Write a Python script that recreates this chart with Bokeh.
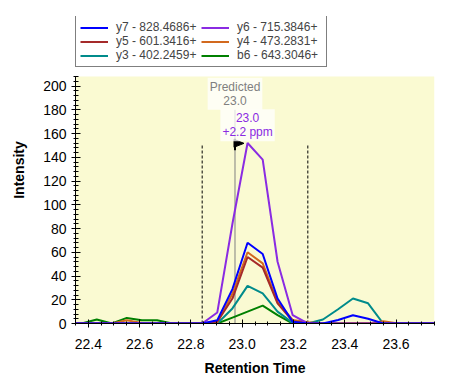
from bokeh.plotting import figure
from bokeh.models import (Legend, LegendItem, Label, FixedTicker, PrintfTickFormatter,
                          Range1d, BoxAnnotation)
from bokeh.embed import file_html
from bokeh.resources import INLINE

# ---- data ----
times = [22.315, 22.374, 22.433, 22.492, 22.550, 22.609, 22.668, 22.727, 22.786,
         22.844, 22.903, 22.962, 23.021, 23.080, 23.138, 23.197, 23.256, 23.315,
         23.374, 23.432, 23.491, 23.550, 23.609, 23.668, 23.726, 23.785]
y7 = [0, 0, 0, 0, 0, 0, 0, 0, 0, 0, 2.8, 29, 68, 58.5, 21, 1.4, 0, 0, 3, 7, 4, 0, 0, 0, 0, 0]
y6 = [0, 0, 0, 0, 0, 0, 0, 0, 0, 0, 9.3, 84, 152, 138, 52, 7, 0, 0, 0, 0, 0, 0, 0, 0, 0, 0]
y5 = [0, 0, 0, 0, 0, 0, 0, 0, 0, 0, 1.5, 21, 56, 47, 17, 2, 0, 0, 0, 0, 0, 0, 0, 0, 0, 0]
y4 = [0, 0, 0, 0, 2.8, 0.5, 0, 0, 0, 0, 1, 25, 60, 50.6, 18, 3, 1, 0, 0, 0, 0, 2, 0, 0, 0, 0]
y3 = [0, 0, 0, 0, 0, 0, 0, 0, 0, 0, 0, 12.7, 31.7, 25.3, 10, 0.5, 0, 3.4, 12, 21, 17, 0, 0, 0, 0, 0]
b6 = [0, 0, 3.4, 0, 4.7, 2.8, 2.8, 0, 0, 0, 0, 5, 10, 15, 7, 0, 0, 0, 0, 0, 0, 0, 0, 0, 0, 0]

series_names = ["y7 - 828.4686+", "y6 - 715.3846+", "y5 - 601.3416+",
                "y4 - 473.2831+", "y3 - 402.2459+", "b6 - 643.3046+"]
series_values = [y7, y6, y5, y4, y3, b6]
series_colors = ["#0000FF", "#8A2BE2", "#A52A2A", "#D2691E", "#008B8B", "#008000"]
# legend is filled column by column: left column y7, y5, y3; right column y6, y4, b6
legend_order = ["y7 - 828.4686+", "y5 - 601.3416+", "y3 - 402.2459+",
                "y6 - 715.3846+", "y4 - 473.2831+", "b6 - 643.3046+"]

x_ticks = [22.4, 22.6, 22.8, 23.0, 23.2, 23.4, 23.6]
x_minor = [round(22.35 + 0.05 * k, 2) for k in range(29)]
y_ticks = [0, 20, 40, 60, 80, 100, 120, 140, 160, 180, 200]
y_minor = [4 * k for k in range(53)]
x_min, x_max = 22.35, 23.75
y_min, y_max = 0, 208

predicted_rt = 22.972
predicted_text = "Predicted\n23.0"
peak_rt = times[12]
peak_text = "23.0\n+2.2 ppm"
boundary_start = times[9]
boundary_end = times[16]

FONT = "Liberation Sans"
PLOT_W, PLOT_H = 359, 247      # yellow chart area in pixels
LEGEND_ROOM = 60               # white room above the chart area for the legend
y_top = y_max * (PLOT_H + LEGEND_ROOM) / PLOT_H

p = figure(frame_width=PLOT_W, frame_height=PLOT_H + LEGEND_ROOM,
           output_backend="svg", toolbar_location=None,
           x_range=Range1d(x_min, x_max), y_range=Range1d(y_min, y_top),
           min_border_left=75, min_border_right=19, min_border_top=16, min_border_bottom=56)
p.background_fill_color = "white"
p.border_fill_color = "white"
p.outline_line_color = None
p.grid.visible = False
p.add_layout(BoxAnnotation(bottom=y_min, top=y_max, fill_color="#FAFAD2", fill_alpha=1,
                           line_color=None, level="underlay"))

# axes
for ax in (p.xaxis[0], p.yaxis[0]):
    ax.axis_line_color = "black"
    ax.major_tick_line_color = "black"
    ax.minor_tick_line_color = "black"
    ax.major_label_text_font = FONT
    ax.major_label_text_font_size = "14px"
    ax.major_label_text_color = "black"
    ax.axis_label_text_font = FONT
    ax.axis_label_text_font_size = "14px"
    ax.axis_label_text_font_style = "bold"
    ax.axis_label_text_color = "black"

p.xaxis.ticker = FixedTicker(ticks=x_ticks, minor_ticks=x_minor)
p.xaxis.formatter = PrintfTickFormatter(format="%.1f")
p.xaxis.major_tick_in = 4
p.xaxis.major_tick_out = 4
p.xaxis.minor_tick_in = 2
p.xaxis.minor_tick_out = 2
p.xaxis.major_label_standoff = 11
p.xaxis.axis_label = "Retention Time"
p.xaxis.axis_label_standoff = 8

p.yaxis.ticker = FixedTicker(ticks=y_ticks, minor_ticks=y_minor)
p.yaxis.formatter = PrintfTickFormatter(format="%d")
p.yaxis.bounds = (y_min, y_max)
p.yaxis.major_tick_in = 5
p.yaxis.major_tick_out = 4
p.yaxis.minor_tick_in = 3
p.yaxis.minor_tick_out = 2
p.yaxis.major_label_standoff = 5
p.yaxis.axis_label = "Intensity"
p.yaxis.axis_label_standoff = 13

# integration boundaries
top = max(y6)
p.segment(x0=[boundary_start, boundary_end], y0=[0, 0],
          x1=[boundary_start, boundary_end], y1=[top - 1, top - 1],
          line_color="black", line_width=1, line_dash="3 2")

# predicted RT line
dxp = (x_max - x_min) / PLOT_W
p.segment(x0=[predicted_rt], y0=[0], x1=[predicted_rt], y1=[180],
          line_color="#808080", line_width=1)

# series (first item drawn on top)
renderers = {}
for name, vals, col in reversed(list(zip(series_names, series_values, series_colors))):
    r = p.line(times, vals, line_color=col, line_width=2)
    renderers[name] = r

# flag
p.patch([predicted_rt - 1 * dxp, predicted_rt + 9 * dxp, predicted_rt - 1 * dxp],
        [155.1, 151.7, 148.4], fill_color="black", line_color="black", line_width=1)
p.segment(x0=[predicted_rt], y0=[146], x1=[predicted_rt], y1=[155.5],
          line_color="black", line_width=2)

# labels
lab1 = Label(x=predicted_rt, y=180, text=predicted_text, text_align="center",
             text_baseline="bottom", text_font=FONT, text_font_size="12px",
             text_line_height=1.0,
             text_color="#808080", background_fill_color="white",
             background_fill_alpha=0.75, padding=2)
lab2 = Label(x=peak_rt, y=153.5, text=peak_text, text_align="center",
             text_baseline="bottom", text_font=FONT, text_font_size="12px",
             text_line_height=1.0,
             text_color="#8A2BE2", background_fill_color="white",
             background_fill_alpha=0.75, padding=2)
p.add_layout(lab1)
p.add_layout(lab2)

# legend above the yellow area
items = [LegendItem(label=n, renderers=[renderers[n]]) for n in legend_order]
legend = Legend(items=items, location=(0, PLOT_H + 9), ncols=2,
                border_line_color="black", border_line_width=1,
                background_fill_color="white", background_fill_alpha=1,
                label_text_font=FONT, label_text_font_size="12px",
                glyph_width=28, glyph_height=13, label_height=13, label_width=85,
                spacing=0, padding=4, label_standoff=8, margin=0)
p.add_layout(legend)

open("out.html", "w").write(file_html(p, INLINE))
